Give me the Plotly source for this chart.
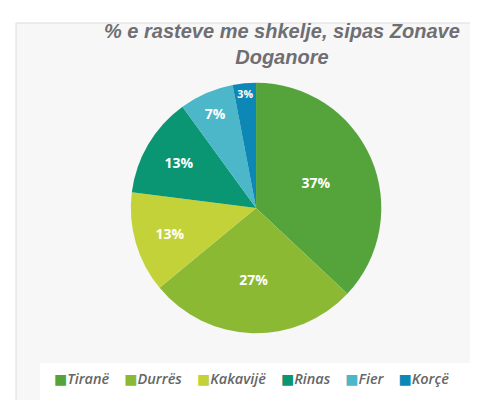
import plotly.graph_objects as go

zones = ["Tiranë", "Durrës", "Kakavijë", "Rinas", "Fier", "Korçë"]
percent = [37, 27, 13, 13, 7, 3]
colors = ["#55A33B", "#8CB934", "#C4D23A", "#0A9673", "#4BB7C9", "#0D88B6"]

fig = go.Figure()
fig.add_trace(go.Pie(
    labels=zones,
    values=percent,
    sort=False,
    direction="clockwise",
    rotation=0,
    marker=dict(colors=colors, line=dict(color="white", width=0)),
    texttemplate="%{value}%",
    textposition="inside",
    insidetextorientation="horizontal",
    textfont=dict(family="Open Sans", size=14, color="white", weight="bold"),
    domain=dict(x=[0.257, 0.781], y=[0.185, 0.815]),
    hoverinfo="label+percent",
    showlegend=False,
))

# legend row built from the same lists (single line, like the original)
sep = "\u00a0" * 4
legend_text = sep.join(
    f"<span style='color:{c}; font-family:DejaVu Sans; font-style:normal; font-size:14px'>■</span><i>{z}</i>"
    for z, c in zip(zones, colors)
)

fig.update_layout(
    width=478, height=400,
    margin=dict(l=0, r=0, t=0, b=0),
    paper_bgcolor="white",
    title=dict(
        text="<i><b>% e rasteve me shkelje, sipas Zonave<br>Doganore</b></i>",
        x=0.573, xanchor="center", y=0.925, yanchor="top",
        font=dict(family="Liberation Sans", size=20, color="#6E6E73"),
    ),
    annotations=[dict(
        text=legend_text, xref="paper", yref="paper", x=0.51, y=1-370/400,
        xanchor="center", yanchor="middle", showarrow=False,
        font=dict(family="Open Sans", size=14.5, color="#666666", weight=600),
    )],
    shapes=[
        dict(type="rect", xref="paper", yref="paper", x0=8/478, x1=477/478,
             y0=-0.01, y1=1-15/400, line=dict(color="#DDDDDD", width=1),
             fillcolor="#F7F7F7", layer="below"),
        dict(type="rect", xref="paper", yref="paper", x0=32/478, x1=465/478,
             y0=1-393/400, y1=1-355/400, line=dict(width=0),
             fillcolor="white", layer="below"),
    ],
)

fig.write_html("out.html")
